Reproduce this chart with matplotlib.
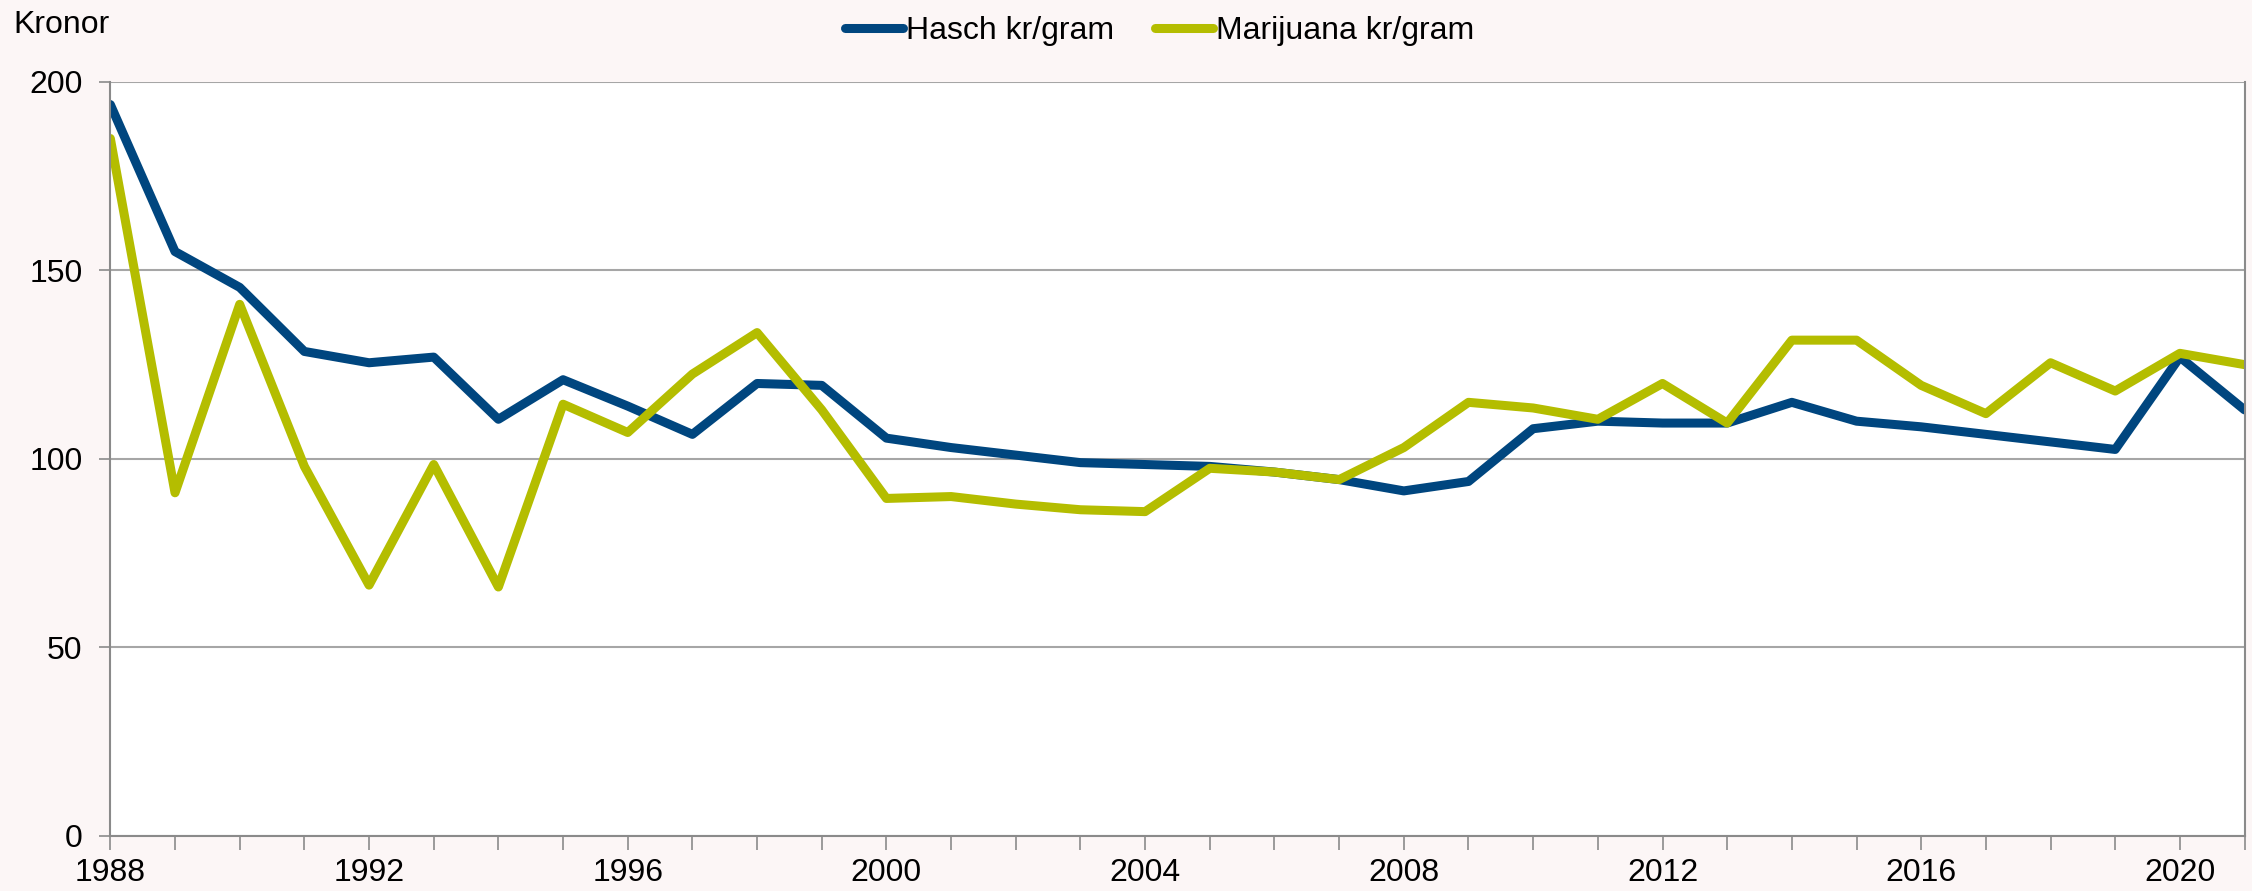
import matplotlib.pyplot as plt
from matplotlib.ticker import MultipleLocator

years = list(range(1988, 2022))
hasch = [194, 155, 145.5, 128.5, 125.5, 127, 110.5, 121, 114, 106.5,
         120, 119.5, 105.5, 103, 101, 99, 98.5, 98, 96.5, 94.5,
         91.5, 94, 108, 110, 109.5, 109.5, 115, 110, 108.5, 106.5,
         104.5, 102.5, 127, 113]
marijuana = [185, 91, 141, 98, 66.5, 98.5, 66, 114.5, 107, 122.5,
             133.5, 113, 89.5, 90, 88, 86.5, 86, 97.5, 96.5, 94.5,
             103, 115, 113.5, 110.5, 120, 109.5, 131.5, 131.5, 119.5, 112,
             125.5, 118, 128, 125]
series_labels = ["Hasch kr/gram", "Marijuana kr/gram"]

plt.rcParams['font.family'] = ['Liberation Sans', 'DejaVu Sans']

fig = plt.figure(figsize=(22.52, 8.91), dpi=100, facecolor='#fcf6f6')
ax = fig.add_axes([0.049, 0.062, 0.9477, 0.846])
ax.set_facecolor('white')

ax.plot(years, hasch, color='#00467f', lw=6.5, label=series_labels[0],
        solid_capstyle='round', solid_joinstyle='round')
ax.plot(years, marijuana, color='#b4bd00', lw=6.5, label=series_labels[1],
        solid_capstyle='round', solid_joinstyle='round')

ax.set_xlim(1988, 2021)
ax.set_ylim(0, 200)
ax.xaxis.set_major_locator(MultipleLocator(4))
ax.xaxis.set_minor_locator(MultipleLocator(1))
ax.yaxis.set_major_locator(MultipleLocator(50))
ax.grid(axis='y', color='#a6a6a6', lw=1.5)
ax.set_axisbelow(True)

for s in ax.spines.values():
    s.set_color('#8a8a8a')
    s.set_linewidth(1.5)
ax.spines['top'].set_visible(False)

ax.tick_params(axis='both', which='both', direction='out', color='#8a8a8a', width=1.2)
ax.tick_params(axis='x', which='major', length=10, labelsize=23, pad=6)
ax.tick_params(axis='x', which='minor', length=10)
ax.tick_params(axis='y', length=8, labelsize=23, pad=12)

fig.text(0.006, 0.972, "Kronor", fontsize=23, va='center', ha='left')

fig.legend(loc='center', bbox_to_anchor=(0.515, 0.965), ncol=2, frameon=False,
           fontsize=23, handlelength=1.8, handletextpad=0.1, columnspacing=1.3)

fig.savefig('out.png', dpi=100, facecolor=fig.get_facecolor())
